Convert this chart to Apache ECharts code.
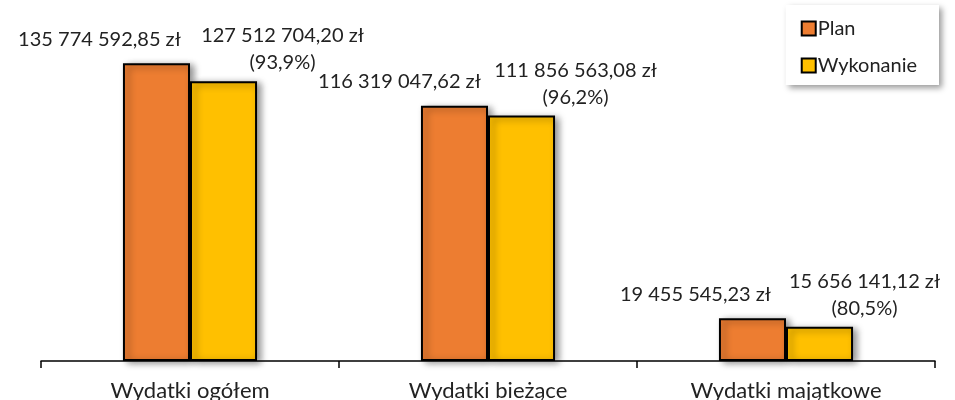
<!DOCTYPE html>
<html>
<head>
<meta charset="utf-8">
<script src="https://cdn.jsdelivr.net/npm/echarts@6/dist/echarts.min.js"></script>
<style>
  html, body { margin: 0; background: #fff; }
  #chart { width: 955px; height: 400px; }
</style>
</head>
<body>
<div id="chart"></div>
<script>
// dane z wykresu
const categories = ['Wydatki ogółem', 'Wydatki bieżące', 'Wydatki majątkowe']
const planValues = [135774592.85, 116319047.62, 19455545.23]
const wykonanieValues = [127512704.20, 111856563.08, 15656141.12]
const seriesNames = ['Plan', 'Wykonanie']

// przesuniecia etykiet (jak w excelu, recznie przesuniete)
const planShift = [-57, -55, -57]
const wykShift = [59, 54, 45]

const FONT = 'Lato'

// 135774592.85 -> "135 774 592,85 zł"
function fmtPLN(v) {
  const parts = v.toFixed(2).split('.')
  const int = parts[0].replace(/\B(?=(\d{3})+(?!\d))/g, ' ')
  return int + ',' + parts[1] + ' zł'
}

const chart = echarts.init(document.getElementById('chart'))

const barStyle = (color) => ({
  color: color,
  borderColor: '#000',
  borderWidth: 2,
  shadowColor: 'rgba(0,0,0,0.45)',
  shadowBlur: 7,
  shadowOffsetX: 4,
  shadowOffsetY: 2
})

const option = {
  animation: false,
  textStyle: { fontFamily: FONT },
  grid: { left: 41, right: 20, top: 10, bottom: 39, containLabel: false, outerBoundsMode: 'none' },
  legend: {
    orient: 'vertical',
    right: 16,
    top: 5,
    padding: [13, 22, 9, 15],
    icon: 'rect',
    itemWidth: 14,
    itemHeight: 14,
    itemGap: 16,
    backgroundColor: '#fff',
    shadowColor: 'rgba(0,0,0,0.4)',
    shadowBlur: 6,
    shadowOffsetX: 3,
    shadowOffsetY: 3,
    textStyle: { fontFamily: FONT, fontSize: 20, color: '#222', lineHeight: 21, padding: [0, 0, 0, -3] },
    data: seriesNames
  },
  xAxis: {
    type: 'category',
    data: categories,
    axisLine: { show: true, lineStyle: { color: '#000', width: 1.5 } },
    axisTick: { show: true, length: 7, lineStyle: { color: '#000', width: 1.5 } },
    axisLabel: { fontFamily: FONT, fontSize: 22, color: '#222', margin: 19 }
  },
  yAxis: {
    type: 'value',
    min: 0,
    max: 160000000,
    show: false,
    splitLine: { show: false }
  },
  series: [
    {
      name: seriesNames[0],
      type: 'bar',
      barGap: 0,
      barCategoryGap: '55%',
      itemStyle: barStyle('#ED7D31'),
      label: {
        show: true,
        position: 'top',
        fontFamily: FONT,
        fontSize: 20,
        color: '#222',
        lineHeight: 26,
        formatter: p => fmtPLN(p.value)
      },
      data: planValues.map((v, i) => ({ value: v, label: { offset: [planShift[i], -6] } }))
    },
    {
      name: seriesNames[1],
      type: 'bar',
      itemStyle: barStyle('#FFC000'),
      label: {
        show: true,
        position: 'top',
        fontFamily: FONT,
        fontSize: 20,
        color: '#222',
        lineHeight: 27,
        align: 'center',
        formatter: p => {
          const pct = (p.value / planValues[p.dataIndex] * 100).toFixed(1).replace('.', ',')
          return fmtPLN(p.value) + '\n(' + pct + '%)'
        }
      },
      data: wykonanieValues.map((v, i) => ({ value: v, label: { offset: [wykShift[i], 0] } }))
    }
  ]
}

chart.setOption(option)
</script>
</body>
</html>
